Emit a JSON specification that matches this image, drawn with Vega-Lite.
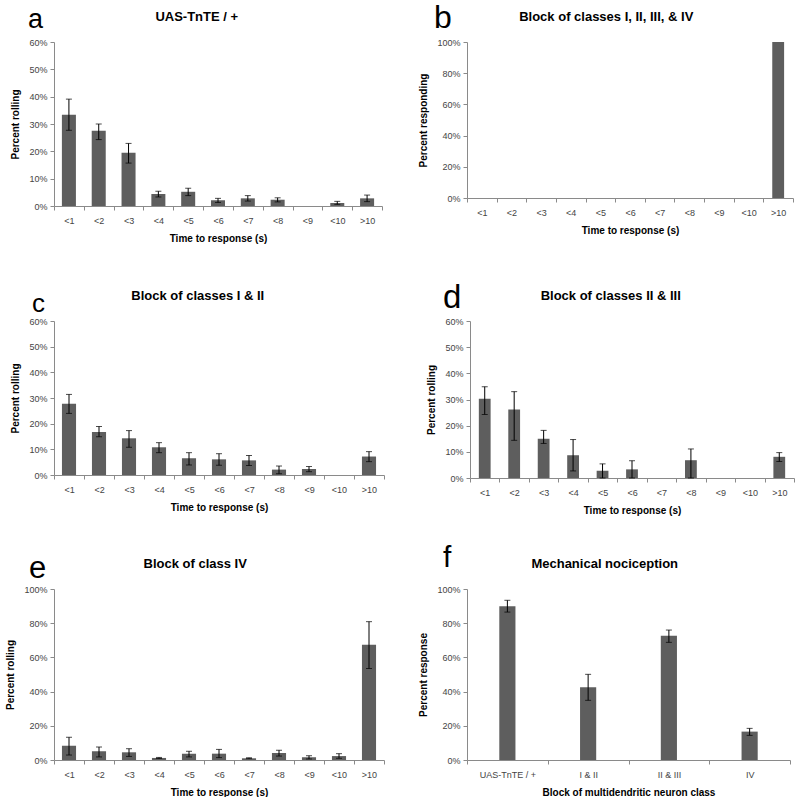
{
  "$schema": "https://vega.github.io/schema/vega-lite/v6.json",
  "background": "white",
  "padding": {"left": 5, "top": 2, "right": 5, "bottom": 0},
  "datasets": {
    "a": [
      {"t": "<1", "v": 33.4, "lo": 27.7, "hi": 39.1},
      {"t": "<2", "v": 27.5, "lo": 24.3, "hi": 30.0},
      {"t": "<3", "v": 19.5, "lo": 15.7, "hi": 22.9},
      {"t": "<4", "v": 4.4, "lo": 3.3, "hi": 5.4},
      {"t": "<5", "v": 5.2, "lo": 3.8, "hi": 6.5},
      {"t": "<6", "v": 2.1, "lo": 1.3, "hi": 2.8},
      {"t": "<7", "v": 2.8, "lo": 1.8, "hi": 3.8},
      {"t": "<8", "v": 2.3, "lo": 1.5, "hi": 3.0},
      {"t": "<9", "v": 0, "lo": null, "hi": null},
      {"t": "<10", "v": 1.1, "lo": 0.6, "hi": 1.7},
      {"t": ">10", "v": 2.8, "lo": 1.6, "hi": 4.0}
    ],
    "b": [
      {"t": "<1", "v": 0}, {"t": "<2", "v": 0}, {"t": "<3", "v": 0}, {"t": "<4", "v": 0},
      {"t": "<5", "v": 0}, {"t": "<6", "v": 0}, {"t": "<7", "v": 0}, {"t": "<8", "v": 0},
      {"t": "<9", "v": 0}, {"t": "<10", "v": 0}, {"t": ">10", "v": 100}
    ],
    "c": [
      {"t": "<1", "v": 27.8, "lo": 24.0, "hi": 31.4},
      {"t": "<2", "v": 16.8, "lo": 14.9, "hi": 18.9},
      {"t": "<3", "v": 14.3, "lo": 10.8, "hi": 17.3},
      {"t": "<4", "v": 10.8, "lo": 8.7, "hi": 12.6},
      {"t": "<5", "v": 6.5, "lo": 3.9, "hi": 8.7},
      {"t": "<6", "v": 6.1, "lo": 3.8, "hi": 8.3},
      {"t": "<7", "v": 5.7, "lo": 3.7, "hi": 7.6},
      {"t": "<8", "v": 2.1, "lo": 0.5, "hi": 3.5},
      {"t": "<9", "v": 2.3, "lo": 1.3, "hi": 3.3},
      {"t": "<10", "v": 0, "lo": null, "hi": null},
      {"t": ">10", "v": 7.2, "lo": 5.2, "hi": 9.1}
    ],
    "d": [
      {"t": "<1", "v": 30.3, "lo": 24.3, "hi": 34.9},
      {"t": "<2", "v": 26.2, "lo": 14.4, "hi": 33.0},
      {"t": "<3", "v": 15.0, "lo": 13.2, "hi": 18.2},
      {"t": "<4", "v": 8.7, "lo": 2.7, "hi": 14.7},
      {"t": "<5", "v": 2.8, "lo": 0, "hi": 5.4},
      {"t": "<6", "v": 3.3, "lo": 0, "hi": 6.6},
      {"t": "<7", "v": 0, "lo": null, "hi": null},
      {"t": "<8", "v": 6.8, "lo": 0, "hi": 11.1},
      {"t": "<9", "v": 0, "lo": null, "hi": null},
      {"t": "<10", "v": 0, "lo": null, "hi": null},
      {"t": ">10", "v": 8.1, "lo": 6.3, "hi": 9.7}
    ],
    "e": [
      {"t": "<1", "v": 8.4, "lo": 2.9, "hi": 13.3},
      {"t": "<2", "v": 5.1, "lo": 1.8, "hi": 7.6},
      {"t": "<3", "v": 4.5, "lo": 2.1, "hi": 6.6},
      {"t": "<4", "v": 1.2, "lo": 0.9, "hi": 1.5},
      {"t": "<5", "v": 3.7, "lo": 1.8, "hi": 5.1},
      {"t": "<6", "v": 3.7, "lo": 1.4, "hi": 6.2},
      {"t": "<7", "v": 1.0, "lo": 0.8, "hi": 1.3},
      {"t": "<8", "v": 4.1, "lo": 2.3, "hi": 5.7},
      {"t": "<9", "v": 1.6, "lo": 0.6, "hi": 2.5},
      {"t": "<10", "v": 2.3, "lo": 1.0, "hi": 3.7},
      {"t": ">10", "v": 67.4, "lo": 53.5, "hi": 80.9}
    ],
    "f": [
      {"t": "UAS-TnTE  / +", "v": 89.9, "lo": 86.5, "hi": 93.4},
      {"t": "I & II", "v": 42.5, "lo": 34.9, "hi": 50.1},
      {"t": "II & III", "v": 72.7, "lo": 68.8, "hi": 76.0},
      {"t": "IV", "v": 16.6, "lo": 14.4, "hi": 18.5}
    ]
  },
  "spacing": 39,
  "vconcat": [
    {
      "spacing": 35,
      "hconcat": [
        {
          "title": {"text": "a", "offset": -23, "dx": 17, "fontSize": 27, "fontWeight": "normal"},
          "vconcat": [{
            "width": 328, "height": 164,
            "title": "UAS-TnTE / +",
            "data": {"name": "a"},
            "layer": [
              {"mark": {"type": "bar", "color": "#5e5e5e", "width": {"band": 0.47}},
               "encoding": {
                 "x": {"field": "t", "type": "nominal", "sort": null, "title": "Time to response  (s)", "scale": {"paddingInner": 0, "paddingOuter": 0}},
                 "y": {"field": "v", "type": "quantitative", "scale": {"domain": [0, 60]}, "axis": {"values": [0, 10, 20, 30, 40, 50, 60], "labelExpr": "datum.value + '%'"}, "title": "Percent rolling"}}},
              {"transform": [{"filter": "datum.hi != null"}],
               "mark": {"type": "errorbar", "ticks": {"size": 6, "color": "black"}, "color": "black"},
               "encoding": {"x": {"field": "t", "type": "nominal", "sort": null}, "y": {"field": "lo", "type": "quantitative", "axis": {"values": [0, 10, 20, 30, 40, 50, 60], "labelExpr": "datum.value + '%'"}, "title": "Percent rolling"}, "y2": {"field": "hi"}}}
            ]
          }]
        },
        {
          "title": {"text": "b", "offset": -24, "dx": 15, "fontSize": 32, "fontWeight": "normal"},
          "vconcat": [{
            "width": 326, "height": 156,
            "title": "Block of classes I, II, III, & IV",
            "data": {"name": "b"},
            "mark": {"type": "bar", "color": "#5e5e5e", "width": {"band": 0.4}},
            "encoding": {
              "x": {"field": "t", "type": "nominal", "sort": null, "title": "Time to response  (s)", "scale": {"paddingInner": 0, "paddingOuter": 0}},
              "y": {"field": "v", "type": "quantitative", "scale": {"domain": [0, 100]}, "axis": {"values": [0, 20, 40, 60, 80, 100], "labelExpr": "datum.value + '%'"}, "title": "Percent responding"}}
          }]
        }
      ]
    },
    {
      "spacing": 28,
      "vconcat": [
        {
          "spacing": 41,
          "hconcat": [
            {
              "title": {"text": "c", "offset": -27, "dx": 21, "fontSize": 26, "fontWeight": "normal"},
              "vconcat": [{
                "width": 330, "height": 154,
                "title": "Block of classes I & II",
                "data": {"name": "c"},
                "layer": [
                  {"mark": {"type": "bar", "color": "#5e5e5e", "width": {"band": 0.47}},
                   "encoding": {
                     "x": {"field": "t", "type": "nominal", "sort": null, "title": "Time to response  (s)", "scale": {"paddingInner": 0, "paddingOuter": 0}},
                     "y": {"field": "v", "type": "quantitative", "scale": {"domain": [0, 60]}, "axis": {"values": [0, 10, 20, 30, 40, 50, 60], "labelExpr": "datum.value + '%'"}, "title": "Percent rolling"}}},
                  {"transform": [{"filter": "datum.hi != null"}],
                   "mark": {"type": "errorbar", "ticks": {"size": 6, "color": "black"}, "color": "black"},
                   "encoding": {"x": {"field": "t", "type": "nominal", "sort": null}, "y": {"field": "lo", "type": "quantitative", "axis": {"values": [0, 10, 20, 30, 40, 50, 60], "labelExpr": "datum.value + '%'"}, "title": "Percent rolling"}, "y2": {"field": "hi"}}}
                ]
              }]
            },
            {
              "title": {"text": "d", "offset": -25, "dx": 16, "fontSize": 33, "fontWeight": "normal"},
              "vconcat": [{
                "width": 324, "height": 157,
                "title": "Block of classes II & III",
                "data": {"name": "d"},
                "layer": [
                  {"mark": {"type": "bar", "color": "#5e5e5e", "width": {"band": 0.4}},
                   "encoding": {
                     "x": {"field": "t", "type": "nominal", "sort": null, "title": "Time to response  (s)", "scale": {"paddingInner": 0, "paddingOuter": 0}},
                     "y": {"field": "v", "type": "quantitative", "scale": {"domain": [0, 60]}, "axis": {"values": [0, 10, 20, 30, 40, 50, 60], "labelExpr": "datum.value + '%'"}, "title": "Percent rolling"}}},
                  {"transform": [{"filter": "datum.hi != null"}],
                   "mark": {"type": "errorbar", "ticks": {"size": 6, "color": "black"}, "color": "black"},
                   "encoding": {"x": {"field": "t", "type": "nominal", "sort": null}, "y": {"field": "lo", "type": "quantitative", "axis": {"values": [0, 10, 20, 30, 40, 50, 60], "labelExpr": "datum.value + '%'"}, "title": "Percent rolling"}, "y2": {"field": "hi"}}}
                ]
              }]
            }
          ]
        },
        {
          "spacing": 33,
          "hconcat": [
            {
              "title": {"text": "e", "offset": -27, "dx": 23, "fontSize": 31, "fontWeight": "normal"},
              "vconcat": [{
                "width": 330, "height": 171,
                "title": "Block of class IV",
                "data": {"name": "e"},
                "layer": [
                  {"mark": {"type": "bar", "color": "#5e5e5e", "width": {"band": 0.47}},
                   "encoding": {
                     "x": {"field": "t", "type": "nominal", "sort": null, "title": "Time to response  (s)", "scale": {"paddingInner": 0, "paddingOuter": 0}},
                     "y": {"field": "v", "type": "quantitative", "scale": {"domain": [0, 100]}, "axis": {"values": [0, 20, 40, 60, 80, 100], "labelExpr": "datum.value + '%'"}, "title": "Percent rolling"}}},
                  {"transform": [{"filter": "datum.hi != null"}],
                   "mark": {"type": "errorbar", "ticks": {"size": 6, "color": "black"}, "color": "black"},
                   "encoding": {"x": {"field": "t", "type": "nominal", "sort": null}, "y": {"field": "lo", "type": "quantitative", "axis": {"values": [0, 20, 40, 60, 80, 100], "labelExpr": "datum.value + '%'"}, "title": "Percent rolling"}, "y2": {"field": "hi"}}}
                ]
              }]
            },
            {
              "title": {"text": "f", "offset": -15, "dx": 24, "fontSize": 30, "fontWeight": "normal"},
              "vconcat": [{
                "width": 323, "height": 171,
                "title": "Mechanical nociception",
                "data": {"name": "f"},
                "layer": [
                  {"mark": {"type": "bar", "color": "#5e5e5e", "width": {"band": 0.2}},
                   "encoding": {
                     "x": {"field": "t", "type": "nominal", "sort": null, "title": "Block of multidendritic neuron class", "scale": {"paddingInner": 0, "paddingOuter": 0}},
                     "y": {"field": "v", "type": "quantitative", "scale": {"domain": [0, 100]}, "axis": {"values": [0, 20, 40, 60, 80, 100], "labelExpr": "datum.value + '%'"}, "title": "Percent response"}}},
                  {"transform": [{"filter": "datum.hi != null"}],
                   "mark": {"type": "errorbar", "ticks": {"size": 6, "color": "black"}, "color": "black"},
                   "encoding": {"x": {"field": "t", "type": "nominal", "sort": null}, "y": {"field": "lo", "type": "quantitative", "axis": {"values": [0, 20, 40, 60, 80, 100], "labelExpr": "datum.value + '%'"}, "title": "Percent response"}, "y2": {"field": "hi"}}}
                ]
              }]
            }
          ]
        }
      ]
    }
  ],
  "config": {
    "view": {"stroke": null},
    "font": "Liberation Sans",
    "title": {"font": "Liberation Sans", "fontSize": 13, "fontWeight": "bold", "color": "#000", "offset": 14, "frame": "bounds"},
    "axis": {
      "grid": false,
      "domainColor": "#8a8a8a",
      "tickColor": "#8a8a8a",
      "tickSize": 4,
      "labelFont": "Liberation Sans",
      "labelFontSize": 9,
      "labelColor": "#444",
      "titleFont": "Liberation Sans",
      "titleFontSize": 10,
      "titleFontWeight": "bold",
      "titleColor": "#000"
    },
    "axisX": {"labelAngle": 0, "tickBand": "extent", "labelPadding": 6, "titlePadding": 8},
    "axisY": {"labelPadding": 3, "titlePadding": 8}
  }
}
